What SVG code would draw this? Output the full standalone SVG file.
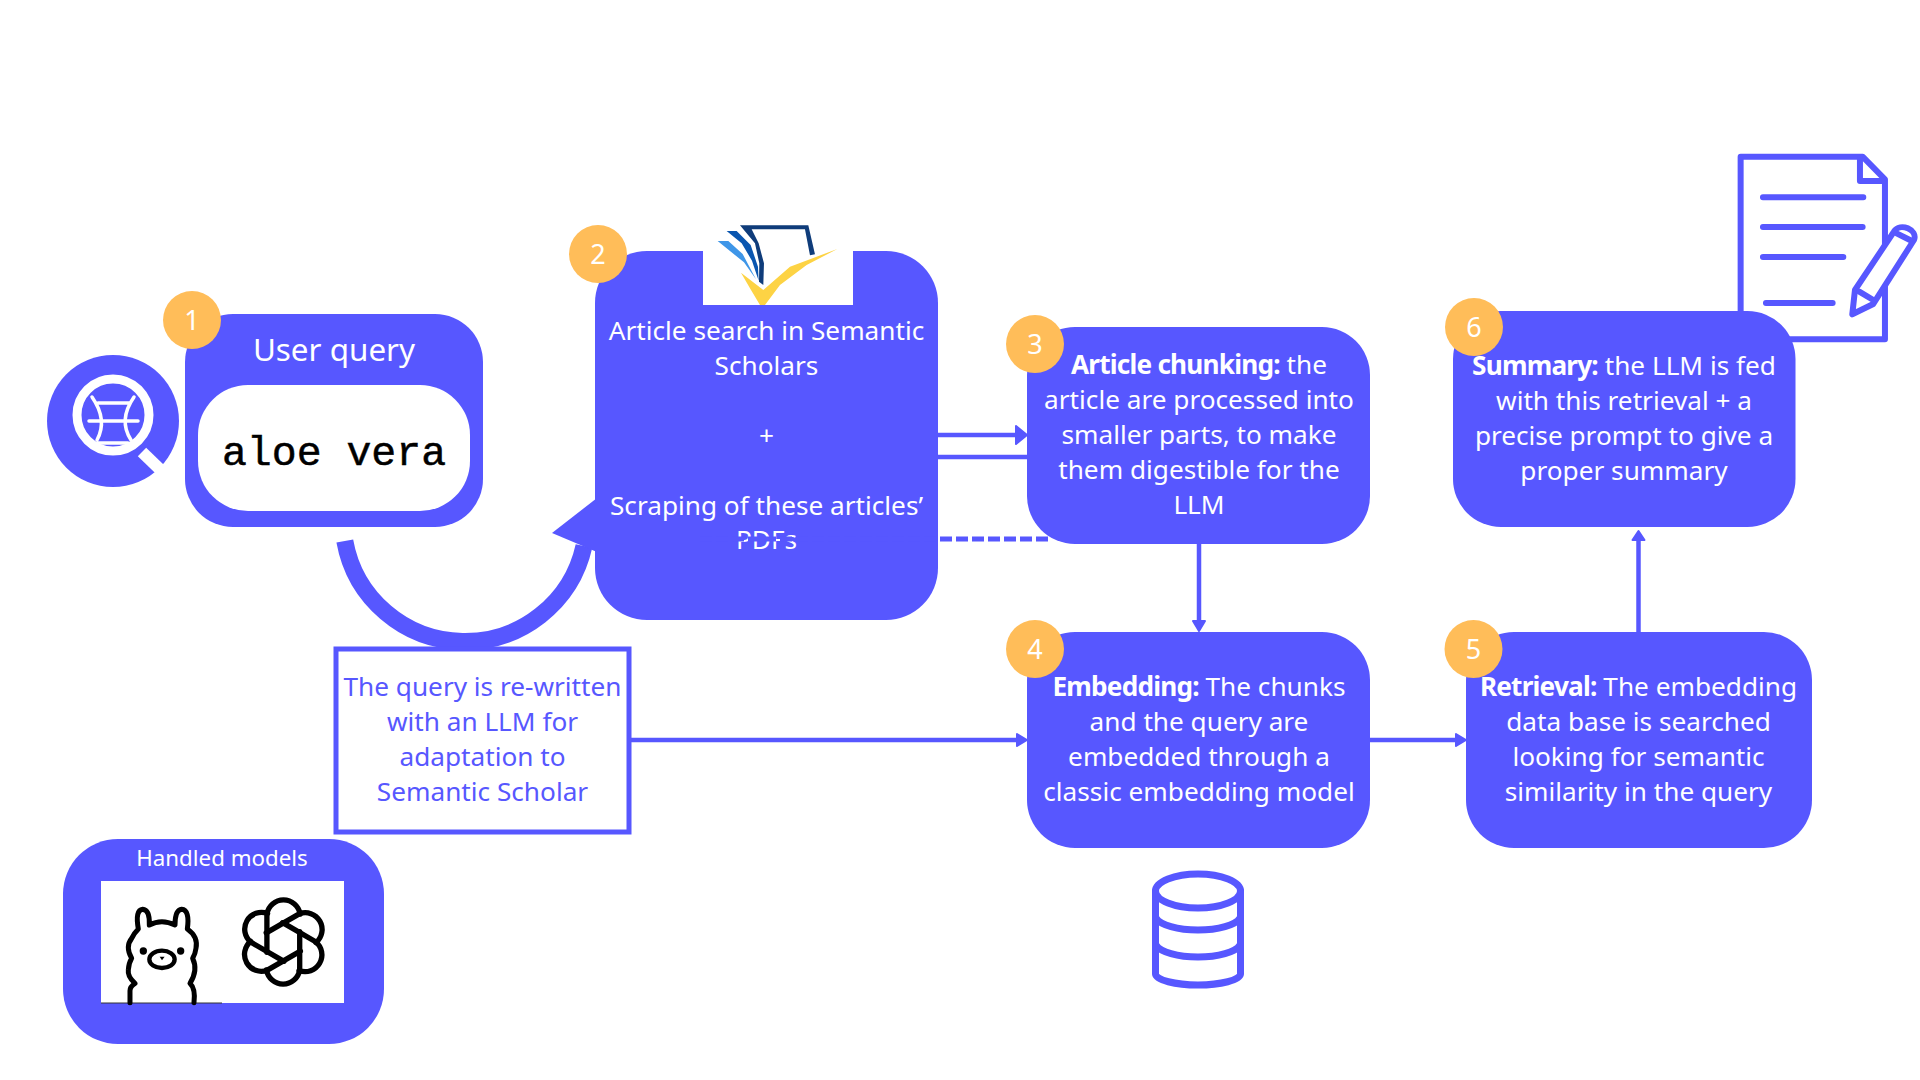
<svg xmlns="http://www.w3.org/2000/svg" xmlns:xlink="http://www.w3.org/1999/xlink" width="1920" height="1080" viewBox="0 0 1920 1080">
<style>
.n{fill:#5757ff}
.t{font-family:"Noto Sans","Open Sans",sans-serif;font-size:26.2px;fill:#fff;text-anchor:middle}
.p{fill:#5757ff}
.bd{fill:#ffbd59}
.bt{font-family:"Noto Sans",sans-serif;font-size:27px;fill:#fff;text-anchor:middle}
.b{font-weight:700;letter-spacing:-.8px}
.c{stroke:#5757ff;stroke-width:4.5;fill:none}
.ah{fill:#5757ff;stroke:#5757ff;stroke-width:2;stroke-linejoin:round}
.i{fill:none;stroke:#5757ff;stroke-linecap:round;stroke-linejoin:round}
.k{fill:none;stroke:#000;stroke-linecap:round;stroke-linejoin:round;stroke-width:15}
</style>
<defs>
<path id="petal" d="M -40 25 V -68 A 41 41 0 0 1 41 -68"/>
</defs>
<rect width="1920" height="1080" fill="#fff"/>

<g id="search-icon">
<circle cx="113" cy="421" r="66" fill="#5757ff"/>
<circle cx="113" cy="415" r="36" fill="none" stroke="#fff" stroke-width="9"/>
<path d="M142 452L172 481" stroke="#fff" stroke-width="12" stroke-linecap="butt"/>
<path d="M92 397Q108 420 97 440M134 397Q118 420 131 440M98 403H130M89 421H138M98 443H128" fill="none" stroke="#fff" stroke-width="3.5" stroke-linecap="round"/>
</g>

<g id="document-icon" transform="translate(1420 130) scale(.3333)">
<path class="i" stroke-width="18" d="M962 545V80H1328L1395 148V628H1100"/>
<path class="i" stroke-width="18" d="M1320 85V153H1390"/>
<path class="i" stroke-width="18" d="M1029 202H1330M1029 291H1328M1029 381H1270M1038 519H1238"/>
<path class="i" stroke-width="18" style="fill:#fff" d="M1297 553L1305 480L1422 305C1440 275 1495 300 1482 330L1360 522Z"/>
<path class="i" stroke-width="18" d="M1430 310L1470 330M1318 485L1360 510"/>
</g>

<g id="connectors">
<path class="c" d="M938 435H1016"/>
<path class="ah" d="M1016 426L1027 435L1016 444Z"/>
<path class="c" d="M938 457H1027"/>
<path class="c" d="M1199 544V622"/>
<path class="ah" d="M1193 621L1199 631L1205 621Z"/>
<path class="c" d="M630 740H1017"/>
<path class="ah" d="M1017 734L1027 740L1017 746Z"/>
<path class="c" d="M1369 740H1456"/>
<path class="ah" d="M1456 734L1466 740L1456 746Z"/>
<path class="c" d="M1638.500 632V540"/>
<path class="ah" d="M1632.500 540L1638.500 531L1644.500 540Z"/>
<path d="M344.800 541A122 122 0 0 0 584 546" fill="none" stroke="#5757ff" stroke-width="17"/>
</g>

<g id="node-1">
<rect class="n" x="185" y="314" width="298" height="213" rx="48"/>
<rect x="198" y="385" width="272" height="126" rx="50" fill="#fff"/>
<text class="t" x="334" y="361" style="font-size:31.400px">User query</text>
<text x="334" y="465" text-anchor="middle" font-family="Liberation Mono,monospace" font-size="41.500" fill="#000" stroke="#000" stroke-width=".5">aloe vera</text>
<circle class="bd" cx="192" cy="320" r="29"/><text class="bt" x="192" y="330">1</text>
</g>

<g id="node-2">
<rect class="n" x="595" y="251" width="343" height="369" rx="52"/>
<path class="n" d="M552 533L597 498V552Z"/>
<rect x="703" y="240" width="150" height="65" fill="#fff"/>
<g id="semantic-scholar-logo" transform="translate(560 200) scale(.3333)">
<path fill="#3f96e8" d="M473 123H505L548 162L588 238L552 187Z"/>
<path fill="#0a56b0" d="M500 93H530L572 135L594 200L596 242L576 182L545 130Z"/>
<path fill="#0f3c7a" d="M540 76H745L765 163L750 166L735 88H575L596 130L612 190L610 255L597 245L598 190L585 130Z"/>
<path fill="#fdd344" d="M543 218L610 270L690 200L832 147L740 195L660 255L615 315H600L570 265Z"/>
</g>
<text class="t" x="766.500" y="339.500">Article search in Semantic</text>
<text class="t" x="766.500" y="374.500">Scholars</text>
<text class="t" x="766.500" y="444.500">+</text>
<text class="t" x="766.500" y="514.500">Scraping of these articles’</text>
<text class="t" x="766.500" y="549">PDFs</text>
<path d="M700 539H1052" stroke="#5757ff" stroke-width="5" stroke-dasharray="12 4"/>
<circle class="bd" cx="598" cy="254" r="29"/><text class="bt" x="598" y="264">2</text>
</g>

<g id="node-3">
<rect class="n" x="1027" y="327" width="343" height="217" rx="48"/>
<text class="t" x="1199" y="374"><tspan class="b">Article chunking:</tspan> the</text>
<text class="t" x="1199" y="409">article are processed into</text>
<text class="t" x="1199" y="444">smaller parts, to make</text>
<text class="t" x="1199" y="479">them digestible for the</text>
<text class="t" x="1199" y="514">LLM</text>
<circle class="bd" cx="1035" cy="344" r="29"/><text class="bt" x="1035" y="354">3</text>
</g>

<g id="node-4">
<rect class="n" x="1027" y="632" width="343" height="216" rx="48"/>
<text class="t" x="1199" y="696"><tspan class="b">Embedding:</tspan> The chunks</text>
<text class="t" x="1199" y="731">and the query are</text>
<text class="t" x="1199" y="766">embedded through a</text>
<text class="t" x="1199" y="801">classic embedding model</text>
<circle class="bd" cx="1035" cy="649" r="29"/><text class="bt" x="1035" y="659">4</text>
</g>

<g id="node-5">
<rect class="n" x="1466" y="632" width="346" height="216" rx="48"/>
<text class="t" x="1638.500" y="696"><tspan class="b">Retrieval:</tspan> The embedding</text>
<text class="t" x="1638.500" y="731">data base is searched</text>
<text class="t" x="1638.500" y="766">looking for semantic</text>
<text class="t" x="1638.500" y="801">similarity in the query</text>
<circle class="bd" cx="1473.500" cy="649" r="29"/><text class="bt" x="1473.500" y="659">5</text>
</g>

<g id="node-6">
<rect class="n" x="1453" y="311" width="342.500" height="216" rx="48"/>
<text class="t" x="1624" y="375"><tspan class="b">Summary:</tspan> the LLM is fed</text>
<text class="t" x="1624" y="410">with this retrieval + a</text>
<text class="t" x="1624" y="445">precise prompt to give a</text>
<text class="t" x="1624" y="480">proper summary</text>
<circle class="bd" cx="1474" cy="327" r="29"/><text class="bt" x="1474" y="337">6</text>
</g>

<g id="rewrite-box">
<rect x="336" y="649" width="293" height="183" fill="none" stroke="#5757ff" stroke-width="5"/>
<text class="t" style="fill:#5757ff" x="482.500" y="696">The query is re-written</text>
<text class="t" style="fill:#5757ff" x="482.500" y="731">with an LLM for</text>
<text class="t" style="fill:#5757ff" x="482.500" y="766">adaptation to</text>
<text class="t" style="fill:#5757ff" x="482.500" y="801">Semantic Scholar</text>
</g>

<g id="database-icon">
<ellipse cx="1198" cy="891" rx="42.500" ry="17" fill="none" stroke="#5757ff" stroke-width="7"/>
<path class="i" stroke-width="7" d="M1155.500 891V974C1156 980 1175 985 1198 985S1240 980 1240.500 974V891M1156 918C1160 925 1178 930 1198 930S1236 925 1240 918M1156 945C1160 952 1178 957 1198 957S1236 952 1240 945"/>
</g>

<g id="models">
<rect class="n" x="63" y="839" width="321" height="205" rx="55"/>
<text class="t" x="222" y="866" style="font-size:22.300px">Handled models</text>
<rect x="101" y="881" width="243" height="122" fill="#fff"/>
<path d="M101 1003H222" stroke="#333" stroke-width="1"/>
<g id="ollama-logo" transform="translate(50 830) scale(.3333)">
<path class="k" d="M240 518V482Q240 470 255 460Q232 440 235 420Q236 400 245 385Q225 350 245 325Q252 310 265 297Q255 240 278 238Q300 240 298 285Q335 265 375 285Q375 240 395 238Q420 240 412 297Q445 320 438 355Q436 372 428 385Q445 420 420 460Q437 475 432 518"/>
<ellipse cx="336" cy="388" rx="38" ry="26" fill="none" stroke="#000" stroke-width="13"/>
<circle cx="280" cy="363" r="11"/><circle cx="392" cy="363" r="11"/>
<path d="M329 380H344L336 391Z"/>
</g>
<g id="openai-logo" transform="translate(283.300 942) scale(.41)" fill="none" stroke="#000" stroke-width="13" stroke-linecap="round" stroke-linejoin="round">
<use xlink:href="#petal" href="#petal"/>
<use xlink:href="#petal" href="#petal" transform="rotate(60)"/>
<use xlink:href="#petal" href="#petal" transform="rotate(120)"/>
<use xlink:href="#petal" href="#petal" transform="rotate(180)"/>
<use xlink:href="#petal" href="#petal" transform="rotate(240)"/>
<use xlink:href="#petal" href="#petal" transform="rotate(300)"/>
</g>
</g>
</svg>
